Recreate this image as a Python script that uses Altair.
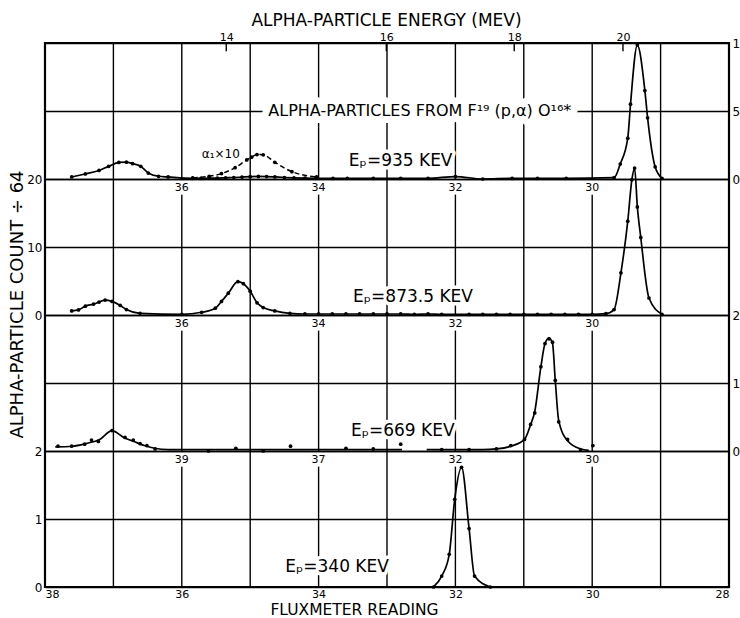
import altair as alt
import pandas as pd

FONT = "DejaVu Sans"

# ---------------- data ----------------
# x = fluxmeter reading on the common grid (38 -> 28); c = count in the panel's own scale
p935_x = [37.61, 37.41, 37.21, 37.07, 36.92, 36.81, 36.72, 36.60, 36.49, 36.34, 36.20,
          35.84, 35.72, 35.60, 35.48, 35.36, 35.24, 35.12, 35.00, 34.88, 34.76, 34.64,
          34.50, 34.36, 34.20, 34.04,
          33.79, 33.58, 33.20, 32.80, 32.40, 32.00, 31.60, 31.17, 30.80, 30.38,
          29.68, 29.59, 29.48, 29.44, 29.34, 29.23, 29.19, 29.08, 28.98]
p935_c = [0.15, 0.37, 0.63, 0.93, 1.22, 1.24, 1.13, 0.93, 0.44, 0.20, 0.15,
          0.05, 0.05, 0.06, 0.07, 0.09, 0.11, 0.14, 0.17, 0.19, 0.18, 0.15,
          0.11, 0.08, 0.06, 0.05,
          0.05, 0.05, 0.05, 0.05, 0.05, 0.18, 0.00, 0.05, 0.05, 0.05,
          0.10, 1.10, 3.00, 5.50, 9.85, 6.50, 4.50, 0.90, 0.05]

a1x10_x = [35.84, 35.60, 35.42, 35.22, 35.05, 34.98, 34.90, 34.81, 34.64, 34.39, 34.03]
a1x10_c = [0.08, 0.20, 0.40, 0.83, 1.40, 1.60, 1.80, 1.78, 1.23, 0.54, 0.15]

p873_x = [37.61, 37.51, 37.41, 37.29, 37.21, 37.12, 37.02, 36.90, 36.81, 36.61, 36.00,
          35.71, 35.51, 35.42, 35.32, 35.18, 35.10, 35.00, 34.90, 34.81, 34.64, 34.42,
          34.20, 34.00, 33.80, 33.60, 33.40, 33.20, 33.00, 32.80, 32.60, 32.40, 32.20,
          31.80, 31.60, 31.40, 31.20, 31.00, 30.80, 30.60, 30.40, 30.20, 30.00,
          29.80, 29.68, 29.58, 29.48, 29.42, 29.38, 29.34, 29.29, 29.17, 28.98]
p873_c = [0.60, 0.75, 1.30, 1.60, 1.90, 2.20, 2.00, 1.40, 0.80, 0.25, 0.10,
          0.40, 1.00, 2.00, 3.20, 4.90, 4.60, 3.50, 1.80, 1.10, 0.60, 0.25,
          0.15, 0.15, 0.15, 0.15, 0.15, 0.15, 0.15, 0.15, 0.10, 0.15, 0.10,
          0.10, 0.10, 0.10, 0.10, 0.10, 0.10, 0.10, 0.10, 0.10, 0.10,
          0.20, 0.80, 6.20, 13.80, 19.90, 21.60, 15.90, 11.40, 2.50, 0.10]

p669_x = [37.81, 37.61, 37.42, 37.32, 37.22, 37.02, 36.83, 36.71, 36.61, 36.51, 36.39,
          35.61, 35.21, 34.81, 34.41, 33.60, 33.20, 32.80, 32.20, 31.80, 31.40, 31.19,
          30.99, 30.90, 30.84, 30.75, 30.69, 30.63, 30.58, 30.54, 30.49, 30.36, 30.17, 29.99]
p669_c = [0.07, 0.07, 0.10, 0.16, 0.14, 0.30, 0.20, 0.16, 0.11, 0.08, 0.03,
          0.00, 0.04, 0.00, 0.07, 0.04, 0.03, 0.10, 0.02, 0.02, 0.03, 0.08,
          0.17, 0.39, 0.56, 1.24, 1.58, 1.65, 1.60, 1.04, 0.43, 0.17, 0.02, 0.08]
# drawn (fitted) curve of the 669 keV run, in two pieces (broken scale)
p669_curve_x = [37.85, 37.60, 37.40, 37.20, 37.02, 36.85, 36.70, 36.55, 36.40, 36.20,
                35.50, 34.50, 33.50, 32.78,
                32.42, 32.00, 31.60, 31.40, 31.19, 30.99, 30.90, 30.84, 30.75, 30.69,
                30.63, 30.58, 30.54, 30.49, 30.36, 30.17, 30.05]
p669_curve_c = [0.06, 0.07, 0.11, 0.17, 0.30, 0.20, 0.14, 0.08, 0.04, 0.02,
                0.02, 0.02, 0.02, 0.02,
                0.02, 0.02, 0.02, 0.03, 0.07, 0.17, 0.39, 0.58, 1.24, 1.58,
                1.66, 1.58, 1.04, 0.45, 0.15, 0.03, 0.01]
p669_curve_seg = ["669a"] * 14 + ["669b"] * 17

p340_x = [32.32, 32.20, 32.09, 32.01, 31.91, 31.80, 31.72, 31.49]
p340_c = [0.00, 0.16, 0.48, 1.29, 1.76, 0.86, 0.16, 0.00]

# axes / labels
bottom_ticks = [38, 36, 34, 32, 30, 28]
grid_x = [37, 36, 35, 34, 33, 32, 31, 30, 29]
inner_pos = [36, 34, 32, 30]
inner_labels = {"935": ["36", "34", "32", "30"],
                "873.5": ["36", "34", "32", "30"],
                "669": ["39", "37", "32", "30"]}
energy_pos = [35.35, 33.01, 31.14, 29.55]
energy_lab = ["14", "16", "18", "20"]

# panel layout: baseline band and counts per band
panel_base = {"935": 6, "873.5": 4, "669": 2, "340": 0}
panel_per = {"935": 5, "873.5": 10, "669": 1, "340": 1}

ann_text = ["ALPHA-PARTICLES FROM F¹⁹ (p,α) O¹⁶*", "Eₚ=935 KEV", "α₁×10",
            "Eₚ=873.5 KEV", "Eₚ=669 KEV", "Eₚ=340 KEV"]
ann_panel = ["935", "935", "935", "873.5", "669", "340"]
ann_x = [32.52, 32.80, 35.43, 32.62, 32.77, 33.73]
ann_c = [5.0, 1.3, 1.84, 2.6, 0.29, 0.29]
ann_size = [16, 17, 12, 17, 17, 17]
ann_halo = [14, 7, 7, 7, 7, 7]


def frame(panel, xs, cs, seg=None):
    df = pd.DataFrame({"x": xs, "c": cs})
    df["panel"] = panel
    df["seg"] = seg if seg is not None else panel
    df["g"] = [panel_base[panel] + v / panel_per[panel] for v in cs]
    return df


dots = pd.concat([frame("935", p935_x, p935_c), frame("873.5", p873_x, p873_c),
                  frame("669", p669_x, p669_c), frame("340", p340_x, p340_c),
                  frame("935", a1x10_x, a1x10_c)])
curves = pd.concat([frame("935", p935_x, p935_c), frame("873.5", p873_x, p873_c),
                    frame("669", p669_curve_x, p669_curve_c, p669_curve_seg),
                    frame("340", p340_x, p340_c)])
dashed = frame("935", a1x10_x, a1x10_c)

ann = pd.DataFrame({"t": ann_text, "panel": ann_panel, "x": ann_x, "c": ann_c,
                    "s": ann_size, "hw": ann_halo})
ann["g"] = [panel_base[p] + v / panel_per[p] for p, v in zip(ann_panel, ann_c)]

rows = []
for xv in grid_x:
    if xv in inner_pos:
        for b in (0, 2, 4):
            rows.append({"x": xv, "g0": b, "g1": b + 1.77})
        rows.append({"x": xv, "g0": 6, "g1": 8})
    else:
        rows.append({"x": xv, "g0": 0, "g1": 8})
vgrid = pd.DataFrame(rows)

inner = pd.DataFrame([{"x": xv, "g": panel_base[p], "t": lab}
                      for p, labs in inner_labels.items() for xv, lab in zip(inner_pos, labs)])
etick = pd.DataFrame({"x": energy_pos, "g0": [8] * 4, "g1": [7.88] * 4, "t": energy_lab})

X = alt.Scale(domain=[28, 38], reverse=True, nice=False, zero=False)
Y = alt.Scale(domain=[0, 8], nice=False, zero=False)

bottom_axis = alt.Axis(orient="bottom", values=bottom_ticks, labelFlush=True, ticks=False,
                       domain=False, grid=False, labelFontSize=11, labelPadding=1,
                       labelColor="black", labelFont=FONT,
                       title="FLUXMETER READING", titleFont=FONT, titleFontSize=15.5,
                       titleFontWeight="normal", titleColor="black", titleX=309, titleY=22,
                       titleBaseline="middle", titleAlign="center")
left_axis = alt.Axis(orient="left", values=[0, 1, 2, 4, 5, 6],
                     labelExpr="['0','1','2','','0','10','20'][datum.value]",
                     grid=True, gridColor="black", gridWidth=1.4, gridOpacity=1,
                     ticks=False, domain=False, labelPadding=3, labelFontSize=12,
                     labelColor="black", labelFont=FONT,
                     title="ALPHA-PARTICLE COUNT ÷ 64", titleFont=FONT, titleFontSize=18,
                     titleFontWeight="normal", titleColor="black", titleX=-28, titleY=261,
                     titleAngle=270, titleBaseline="middle", titleAlign="center")
top_axis = alt.Axis(orient="top", values=energy_pos,
                    labelExpr="datum.value > 34 ? '14' : datum.value > 32 ? '16' : datum.value > 30 ? '18' : '20'",
                    ticks=False, domain=False, grid=False, labelPadding=1, labelFontSize=11,
                    labelColor="black", labelFont=FONT,
                    title="ALPHA-PARTICLE ENERGY (MEV)", titleFont=FONT, titleFontSize=17,
                    titleFontWeight="normal", titleColor="black", titleX=341, titleY=-23,
                    titleBaseline="middle", titleAlign="center")
right_axis = alt.Axis(orient="right", values=[2, 3, 4, 6, 7, 8],
                      labelExpr="['','','0','1','2','','0','5','10'][datum.value]",
                      grid=True, gridColor="black", gridWidth=1.4, gridOpacity=1,
                      ticks=False, domain=False, labelPadding=3, labelFontSize=12,
                      labelColor="black", labelFont=FONT, title=None)

vlines = alt.Chart(vgrid).mark_rule(color="black", strokeWidth=1.4).encode(
    x=alt.X("x:Q", scale=X, axis=bottom_axis),
    y=alt.Y("g0:Q", scale=Y, axis=left_axis),
    y2="g1:Q")

eticks = alt.Chart(etick).mark_rule(color="black", strokeWidth=1.4).encode(
    x=alt.X("x:Q", scale=X, axis=top_axis),
    y=alt.Y("g0:Q", scale=Y, axis=right_axis),
    y2="g1:Q")

lines = alt.Chart(curves).mark_line(color="black", strokeWidth=1.7, interpolate="monotone").encode(
    x=alt.X("x:Q", scale=X, axis=None),
    y=alt.Y("g:Q", scale=Y, axis=None),
    detail="seg:N")

dash = alt.Chart(dashed).mark_line(color="black", strokeWidth=1.5, strokeDash=[5, 3],
                                   interpolate="monotone").encode(
    x=alt.X("x:Q", scale=X, axis=None),
    y=alt.Y("g:Q", scale=Y, axis=None))

pts = alt.Chart(dots).mark_circle(color="black", size=14, opacity=1).encode(
    x=alt.X("x:Q", scale=X, axis=None),
    y=alt.Y("g:Q", scale=Y, axis=None))

halo = alt.Chart(ann).mark_text(font=FONT, color="white", stroke="white",
                                strokeJoin="round", baseline="middle", align="center").encode(
    x=alt.X("x:Q", scale=X, axis=None),
    y=alt.Y("g:Q", scale=Y, axis=None),
    text="t:N", size=alt.Size("s:Q", scale=None, legend=None),
    strokeWidth=alt.StrokeWidth("hw:Q", scale=None, legend=None))

txt = alt.Chart(ann).mark_text(font=FONT, color="black", baseline="middle", align="center").encode(
    x=alt.X("x:Q", scale=X, axis=None),
    y=alt.Y("g:Q", scale=Y, axis=None),
    text="t:N", size=alt.Size("s:Q", scale=None, legend=None))

inner_txt = alt.Chart(inner).mark_text(font=FONT, color="black", fontSize=11, baseline="middle",
                                       align="center", dy=9).encode(
    x=alt.X("x:Q", scale=X, axis=None),
    y=alt.Y("g:Q", scale=Y, axis=None),
    text="t:N")

chart = alt.layer(vlines, eticks, lines, dash, pts, halo, txt, inner_txt).resolve_axis(
    x="independent", y="independent"
).properties(
    width=684, height=544,
    autosize=alt.AutoSizeParams(type="none"),
    padding={"left": 45, "top": 43, "right": 11, "bottom": 31},
    background="white",
).configure_view(stroke="black", strokeWidth=2.2)

chart.save("out.html", embed_options={"renderer": "svg", "actions": False})
